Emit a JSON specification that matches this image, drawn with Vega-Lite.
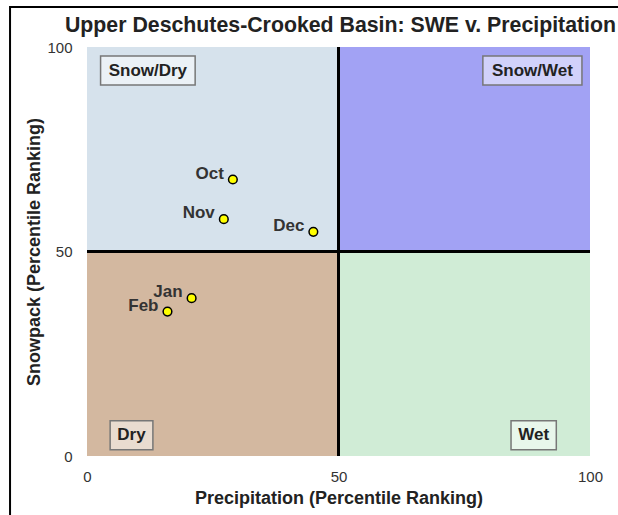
{
  "$schema": "https://vega.github.io/schema/vega-lite/v6.json",
  "width": 503,
  "height": 409,
  "autosize": {"type": "none"},
  "padding": {"left": 87, "top": 47, "right": 28, "bottom": 59},
  "background": "white",
  "config": {"view": {"stroke": null}, "font": "Liberation Sans"},
  "title": {"text": "Upper Deschutes-Crooked Basin: SWE v. Precipitation", "fontSize": 21.3, "fontWeight": "bold", "color": "#222222", "anchor": "middle", "frame": "group", "offset": -30, "dx": 2},
  "datasets": {
    "quadrants": [
      {"quadrant": "Snow/Dry", "x1": 0, "x2": 50, "y1": 50, "y2": 100},
      {"quadrant": "Snow/Wet", "x1": 50, "x2": 100, "y1": 50, "y2": 100},
      {"quadrant": "Dry", "x1": 0, "x2": 50, "y1": 0, "y2": 50},
      {"quadrant": "Wet", "x1": 50, "x2": 100, "y1": 0, "y2": 50}
    ],
    "labels": [
      {"label": "Snow/Dry", "x1": 2.7, "x2": 21.5, "y1": 90.7, "y2": 97.8},
      {"label": "Snow/Wet", "x1": 78.7, "x2": 98.4, "y1": 90.7, "y2": 97.8},
      {"label": "Dry", "x1": 4.6, "x2": 13.1, "y1": 1.5, "y2": 8.6},
      {"label": "Wet", "x1": 84.3, "x2": 93.3, "y1": 1.5, "y2": 8.6}
    ],
    "points": [
      {"month": "Oct", "precip": 29.0, "swe": 67.6},
      {"month": "Nov", "precip": 27.2, "swe": 57.9},
      {"month": "Dec", "precip": 45.0, "swe": 54.8},
      {"month": "Jan", "precip": 20.8, "swe": 38.6},
      {"month": "Feb", "precip": 16.0, "swe": 35.3}
    ]
  },
  "layer": [
    {
      "data": {"name": "quadrants"},
      "mark": {"type": "rect"},
      "encoding": {
        "x": {"field": "x1", "type": "quantitative", "scale": {"domain": [0, 100], "nice": false, "zero": false},
          "axis": {"title": "Precipitation (Percentile Ranking)", "values": [0, 50, 100], "labelFontSize": 15, "labelColor": "#333333", "titleFontSize": 18, "titleFontWeight": "bold", "titleColor": "#222222", "ticks": false, "domain": false, "grid": false, "labelPadding": 13, "titlePadding": 5, "labelFlush": false}},
        "x2": {"field": "x2"},
        "y": {"field": "y1", "type": "quantitative", "scale": {"domain": [0, 100], "nice": false, "zero": false},
          "axis": {"title": "Snowpack (Percentile Ranking)", "values": [0, 50, 100], "labelFontSize": 15, "labelColor": "#333333", "titleFontSize": 18, "titleFontWeight": "bold", "titleColor": "#222222", "ticks": false, "domain": false, "grid": false, "labelPadding": 15, "titlePadding": 3, "labelFlush": false}},
        "y2": {"field": "y2"},
        "color": {"field": "quadrant", "type": "nominal", "legend": null,
          "scale": {"domain": ["Snow/Dry", "Snow/Wet", "Dry", "Wet"], "range": ["#d6e2ec", "#a2a2f4", "#d3b8a0", "#d0ecd6"]}}
      }
    },
    {
      "data": {"values": [{}]},
      "mark": {"type": "rule", "color": "black", "strokeWidth": 3},
      "encoding": {"x": {"datum": 50}, "y": {"datum": 0}, "y2": {"datum": 100}}
    },
    {
      "data": {"values": [{}]},
      "mark": {"type": "rule", "color": "black", "strokeWidth": 3},
      "encoding": {"y": {"datum": 50}, "x": {"datum": 0}, "x2": {"datum": 100}}
    },
    {
      "data": {"name": "labels"},
      "mark": {"type": "rect", "fill": "white", "fillOpacity": 0.5, "stroke": "#777777", "strokeWidth": 1.5},
      "encoding": {"x": {"field": "x1", "type": "quantitative"}, "x2": {"field": "x2"}, "y": {"field": "y1", "type": "quantitative"}, "y2": {"field": "y2"}}
    },
    {
      "data": {"name": "labels"},
      "transform": [{"calculate": "(datum.x1 + datum.x2) / 2", "as": "xc"}, {"calculate": "(datum.y1 + datum.y2) / 2", "as": "yc"}],
      "mark": {"type": "text", "fontSize": 17, "fontWeight": "bold", "color": "#222222", "align": "center", "baseline": "middle"},
      "encoding": {"x": {"field": "xc", "type": "quantitative"}, "y": {"field": "yc", "type": "quantitative"}, "text": {"field": "label"}}
    },
    {
      "data": {"name": "points"},
      "mark": {"type": "point", "filled": true, "fill": "#ffff00", "stroke": "black", "strokeWidth": 1.5, "size": 75, "opacity": 1},
      "encoding": {"x": {"field": "precip", "type": "quantitative"}, "y": {"field": "swe", "type": "quantitative"}}
    },
    {
      "data": {"name": "points"},
      "mark": {"type": "text", "fontSize": 17, "fontWeight": "bold", "color": "#333333", "align": "right", "baseline": "middle", "dx": -9, "dy": -6},
      "encoding": {"x": {"field": "precip", "type": "quantitative"}, "y": {"field": "swe", "type": "quantitative"}, "text": {"field": "month"}}
    },
    {
      "data": {"values": [{}]},
      "mark": {"type": "rect", "fill": null, "stroke": "black", "strokeWidth": 2, "clip": false},
      "encoding": {"x": {"datum": -15.3}, "x2": {"datum": 115}, "y": {"datum": 109.8}, "y2": {"datum": -20}}
    }
  ]
}
